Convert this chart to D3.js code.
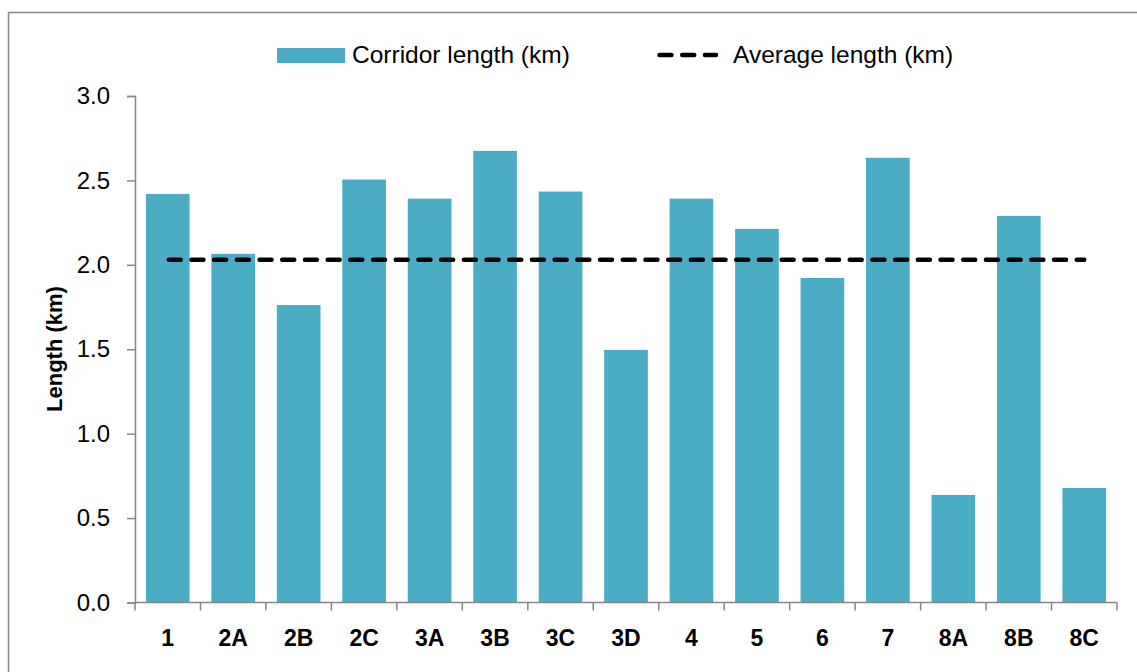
<!DOCTYPE html>
<html>
<head>
<meta charset="UTF-8">
<title>Corridor length</title>
<script src="https://cdn.jsdelivr.net/npm/d3@7"></script>
<style>
body { margin: 0; background: #fff; }
svg { font-family: "Liberation Sans", Arial, sans-serif; }
</style>
</head>
<body>
<svg width="1137" height="672"></svg>
<script>
// data
var corridors = ["1", "2A", "2B", "2C", "3A", "3B", "3C", "3D", "4", "5", "6", "7", "8A", "8B", "8C"];
var lengths = [2.42, 2.065, 1.762, 2.505, 2.392, 2.675, 2.434, 1.496, 2.392, 2.213, 1.922, 2.634, 0.637, 2.29, 0.678];
var averageLength = [2.03];
var yTicks = [0, 0.5, 1.0, 1.5, 2.0, 2.5, 3.0];

var barColor = "#4BACC6",
    axisColor = "#868686";

var svg = d3.select("svg");

// outer frame (cropped on right and bottom like the original)
svg.append("rect")
    .attr("x", 8.5).attr("y", 12.5)
    .attr("width", 1160).attr("height", 700)
    .attr("fill", "none")
    .attr("stroke", "#898989")
    .attr("stroke-width", 1.5);

var plotLeft = 135, plotRight = 1117, plotTop = 96, plotBottom = 602.5;

var x = d3.scaleBand()
    .domain(corridors)
    .range([plotLeft, plotRight])
    .paddingInner(0.333)
    .paddingOuter(0.1665);

var y = d3.scaleLinear()
    .domain([0, 3])
    .range([plotBottom, plotTop]);

// bars
svg.selectAll(".bar")
    .data(corridors)
  .enter().append("rect")
    .attr("class", "bar")
    .attr("x", function(d) { return x(d); })
    .attr("width", x.bandwidth())
    .attr("y", function(d, i) { return y(lengths[i]); })
    .attr("height", function(d, i) { return plotBottom - y(lengths[i]); })
    .attr("fill", barColor);

// y axis
var yAxis = svg.append("g")
    .attr("transform", "translate(" + plotLeft + ",0)")
    .call(d3.axisLeft(y).tickValues(yTicks).tickFormat(d3.format(".1f")).tickSize(8).tickPadding(17));
yAxis.select(".domain").attr("stroke", axisColor).attr("stroke-width", 1.5);
yAxis.selectAll(".tick line").attr("stroke", axisColor).attr("stroke-width", 1.5);
yAxis.selectAll(".tick text")
    .attr("fill", "#000")
    .style("font-size", "24px")
    .style("font-family", "'Liberation Sans', Arial, sans-serif");

// x axis: ticks between categories
var step = x.step();
var bounds = d3.range(corridors.length + 1).map(function(i) { return plotLeft + i * step; });
var xAxis = svg.append("g");
xAxis.append("line")
    .attr("x1", plotLeft).attr("x2", plotRight)
    .attr("y1", plotBottom).attr("y2", plotBottom)
    .attr("stroke", axisColor).attr("stroke-width", 1.5);
xAxis.selectAll(".xtick")
    .data(bounds)
  .enter().append("line")
    .attr("class", "xtick")
    .attr("x1", function(d) { return d; }).attr("x2", function(d) { return d; })
    .attr("y1", plotBottom).attr("y2", plotBottom + 8)
    .attr("stroke", axisColor).attr("stroke-width", 1.5);
xAxis.selectAll(".xlabel")
    .data(corridors)
  .enter().append("text")
    .attr("class", "xlabel")
    .attr("x", function(d) { return x(d) + x.bandwidth() / 2; })
    .attr("y", 646)
    .attr("text-anchor", "middle")
    .style("font-size", "23px")
    .style("font-weight", "bold")
    .text(function(d) { return d; });

// y axis title
svg.append("text")
    .attr("transform", "translate(62,349) rotate(-90)")
    .attr("text-anchor", "middle")
    .style("font-size", "22px")
    .style("font-weight", "bold")
    .text("Length (km)");

// average line
var dash = "12,10.7";
var first = corridors[0], last = corridors[corridors.length - 1];
svg.append("line")
    .attr("x1", x(first) + x.bandwidth() / 2 + 1)
    .attr("x2", x(last) + x.bandwidth() / 2)
    .attr("y1", y(averageLength[0]))
    .attr("y2", y(averageLength[0]))
    .attr("stroke", "#000")
    .attr("stroke-width", 4.5)
    .attr("stroke-linecap", "round")
    .attr("stroke-dasharray", dash);

// legend
var legend = svg.append("g");
legend.append("rect")
    .attr("x", 277).attr("y", 48)
    .attr("width", 68).attr("height", 15)
    .attr("fill", barColor);
legend.append("text")
    .attr("x", 352).attr("y", 63)
    .style("font-size", "24.5px")
    .text("Corridor length (km)");
legend.append("line")
    .attr("x1", 659.5).attr("x2", 716)
    .attr("y1", 55).attr("y2", 55)
    .attr("stroke", "#000")
    .attr("stroke-width", 4.5)
    .attr("stroke-linecap", "round")
    .attr("stroke-dasharray", dash);
legend.append("text")
    .attr("x", 733).attr("y", 63)
    .style("font-size", "24.5px")
    .text("Average length (km)");
</script>
</body>
</html>
